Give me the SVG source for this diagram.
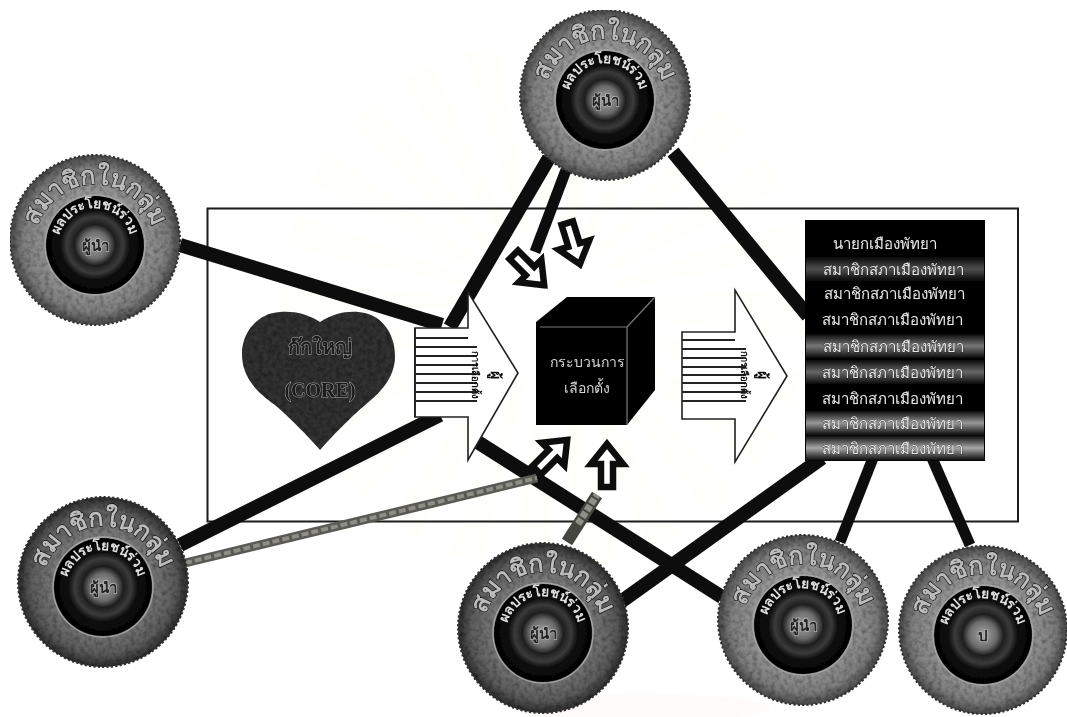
<svg xmlns="http://www.w3.org/2000/svg" width="1067" height="717" viewBox="0 0 1067 717">
<style>
text{font-family:"Noto Sans","Noto Sans CJK SC","DejaVu Sans",sans-serif;text-anchor:middle}
.frame{fill:none;stroke:#1a1a1a;stroke-width:2}
.ln{stroke:#0c0c0c;stroke-linecap:butt;fill:none}
.w13{stroke-width:14}.w11{stroke-width:11}
.rope{stroke:#5a5a54;fill:none;stroke-width:9}
.ropeT{stroke:#8f8e86;fill:none;stroke-width:4;stroke-dasharray:7 3}
.big{fill:#fff;stroke:#222;stroke-width:1.6}
.st{stroke:#222;stroke-width:1.8}
.hollow{fill:#fff;stroke:#0c0c0c;stroke-width:6.500;stroke-linejoin:miter}
.rim{fill:none;stroke:#2f2f2f;stroke-width:2;stroke-dasharray:2.2 2.2}
.halo{fill:none;stroke:#a5a5a5;stroke-width:1.3}
.t1{font-size:25px;font-weight:700;fill:#bcbcbc;stroke:#111;stroke-width:1.2;paint-order:stroke}
.t2{font-size:13.500px;font-weight:700;fill:#e2e2e2}
.t3{font-size:15px;font-weight:700;fill:#222;stroke:#bbb;stroke-width:1.2;paint-order:stroke}
.li{font-size:15px;fill:#e8e8e8;stroke:#111;stroke-width:.5;paint-order:stroke}
.vt{font-size:9.500px;font-weight:700;fill:#111}
.vs{font-size:14px;font-weight:700;fill:#111}
.cu{font-size:14px;fill:#d4d4d4}
.he{font-size:20px;font-weight:700;fill:#1d1d1d;stroke:#a8a8a8;stroke-width:.9;paint-order:stroke}
</style>
<defs>
<filter id="soft" x="0" y="0" width="100%" height="100%"><feGaussianBlur stdDeviation="0.7"/></filter>
<filter id="grain" x="-5%" y="-5%" width="110%" height="110%">
<feTurbulence type="fractalNoise" baseFrequency="0.22" numOctaves="2" seed="4" result="n"/>
<feColorMatrix in="n" type="matrix" values="0 0 0 0 0 0 0 0 0 0 0 0 0 0 0 0 0 0 1.1 -0.42" result="g"/>
<feComposite in="g" in2="SourceGraphic" operator="in" result="gg"/>
<feMerge><feMergeNode in="SourceGraphic"/><feMergeNode in="gg"/></feMerge>
</filter>
<radialGradient id="ringA"><stop offset="0.55" stop-color="#989898"/><stop offset="0.85" stop-color="#7e7e7e"/><stop offset="1" stop-color="#484848"/></radialGradient>
<radialGradient id="ringB"><stop offset="0.55" stop-color="#7c7c7c"/><stop offset="0.85" stop-color="#5c5c5c"/><stop offset="1" stop-color="#2c2c2c"/></radialGradient>
<radialGradient id="core"><stop offset="0" stop-color="#a8a8a8"/><stop offset="0.28" stop-color="#6a6a6a"/><stop offset="0.42" stop-color="#1e1e1e"/><stop offset="0.58" stop-color="#3a3a3a"/><stop offset="0.72" stop-color="#0a0a0a"/><stop offset="1" stop-color="#040404"/></radialGradient>
<linearGradient id="band" x1="0" y1="0" x2="0" y2="1"><stop offset="0" stop-color="#000"/><stop offset="0.5" stop-color="#a8a8a8"/><stop offset="1" stop-color="#000"/></linearGradient>
<path id="arcO" d="M-59 15A60 60 0 1 1 59 15"/>
<path id="arcI" d="M-37 5A37 37 0 0 1 37 5"/>
<path id="hol" d="M0 4L16 24H6V47H-6V24H-16Z"/>
</defs>
<rect width="1067" height="717" fill="#fff"/>
<g filter="url(#soft)">
<g id="watermark" fill="none">
<circle cx="545" cy="305" r="170" stroke="#fefefa" stroke-width="190" stroke-dasharray="22 22"/>
<ellipse cx="640" cy="708" rx="130" ry="14" fill="#fefbfa"/>
</g>
<rect id="frame" class="frame" x="207.500" y="208.500" width="810.500" height="313"/>
<g id="connectors">
<line class="ln w13" x1="180" y1="245" x2="442" y2="325"/>
<line class="ln w13" x1="180" y1="545" x2="440" y2="415"/>
<line class="ln w13" x1="549" y1="158" x2="450" y2="327"/>
<line class="ln w11" x1="566" y1="170" x2="535" y2="252"/>
<line class="ln w13" x1="673" y1="152" x2="808" y2="316"/>
<line class="ln w13" x1="476" y1="441" x2="722" y2="597"/>
<line class="ln w13" x1="622" y1="601" x2="822" y2="458"/>
<line class="ln w11" x1="840" y1="542" x2="873" y2="458"/>
<line class="ln w11" x1="970" y1="545" x2="932" y2="458"/>
<line class="rope" x1="185" y1="563" x2="537" y2="478"/>
<line class="ropeT" x1="185" y1="563" x2="537" y2="478"/>
<line x1="567" y1="542" x2="597" y2="495" stroke="#45453f" stroke-width="12"/>
<line x1="578" y1="524" x2="597" y2="495" stroke="#8f8e87" stroke-width="7" stroke-dasharray="6 2"/>
</g>
<g id="arrow-left">
<path class="big" d="M415 328H468V292L518 373L468 460V417H415Z"/>
<path class="st" d="M415 338H468M415 347H477M415 356H477M415 365H477M415 374H477M415 383H477M415 392H477M415 401H477M415 328V417"/>
<text class="vt" transform="translate(472 375) rotate(90)">การเลือกตั้ง</text>
<text class="vs" transform="translate(491 375) rotate(90)">ผู้</text>
</g>
<g id="hollow-arrows">
<use href="#hol" class="hollow" transform="translate(547 288) rotate(135)"/>
<use href="#hol" class="hollow" transform="translate(581 268) rotate(163)"/>
<use href="#hol" class="hollow" transform="translate(570 437) rotate(45)"/>
<use href="#hol" class="hollow" transform="translate(607 440)"/>
</g>
<g id="core-heart">
<path d="M320 322C332 314 346 311 358 312C380 313 395 332 395 356C395 378 380 393 365 405C350 418 332 436 320 450C308 436 290 418 275 405C258 393 242 378 242 354C242 332 258 313 280 312C294 311 308 314 320 322Z" fill="#323232" filter="url(#grain)"/>
<text class="he" x="320" y="354">ก๊กใหญ่</text>
<text class="he" x="320" y="397" style="font-family:'Liberation Serif',serif">(CORE)</text>
</g>
<g id="ballot-box">
<path d="M536 322L567 297H655V390L627 425H536Z" fill="#050505"/>
<path d="M540 327H627V425M627 327L655 297" fill="none" stroke="#777" stroke-width="1.200"/>
<text class="cu" x="587" y="367">กระบวนการ</text>
<text class="cu" x="587" y="393">เลือกตั้ง</text>
</g>
<g id="arrow-right">
<path class="big" d="M682 332H735V290L787 376L735 462V419H682Z"/>
<path class="st" d="M682 340H735M682 349H746M682 358H746M682 367H746M682 375H746M682 383H746M682 392H746M682 401H746"/>
<text class="vt" transform="translate(741 375) rotate(90)">การเลือกตั้ง</text>
<text class="vs" transform="translate(758 375) rotate(90)">ผู้</text>
</g>
<g id="council-list">
<rect x="805" y="220" width="180" height="241" fill="#050505"/>
<rect x="806" y="256" width="178" height="26" fill="url(#band)" opacity=".45"/>
<rect x="806" y="333" width="178" height="26" fill="url(#band)" opacity=".7"/>
<rect x="806" y="359" width="178" height="26" fill="url(#band)" opacity=".6"/>
<rect x="806" y="410" width="178" height="26" fill="url(#band)" opacity=".9"/>
<rect x="806" y="435" width="178" height="26" fill="url(#band)" opacity="1.000"/>
<text class="li" x="885" y="249">นายกเมืองพัทยา</text>
<text class="li" x="893" y="275">สมาชิกสภาเมืองพัทยา</text>
<text class="li" x="894" y="299">สมาชิกสภาเมืองพัทยา</text>
<text class="li" x="892" y="325">สมาชิกสภาเมืองพัทยา</text>
<text class="li" x="893" y="352">สมาชิกสภาเมืองพัทยา</text>
<text class="li" x="892" y="378">สมาชิกสภาเมืองพัทยา</text>
<text class="li" x="892" y="404">สมาชิกสภาเมืองพัทยา</text>
<text class="li" x="892" y="429">สมาชิกสภาเมืองพัทยา</text>
<text class="li" x="892" y="454">สมาชิกสภาเมืองพัทยา</text>
</g>
<g id="member-top" transform="translate(605 95)">
<circle r="85" fill="url(#ringA)" filter="url(#grain)"/><circle r="85" class="rim"/>
<circle cy="5" r="49" fill="url(#core)"/><circle cy="5" r="50" class="halo"/>
<text class="t1"><textPath href="#arcO" startOffset="50%">สมาชิกในกลุ่ม</textPath></text>
<text class="t2"><textPath href="#arcI" startOffset="50%">ผลประโยชน์ร่วม</textPath></text>
<text class="t3" y="11">ผู้นำ</text>
</g>
<g id="member-left-upper" transform="translate(95 240)">
<circle r="85" fill="url(#ringA)" filter="url(#grain)"/><circle r="85" class="rim"/>
<circle cy="5" r="49" fill="url(#core)"/><circle cy="5" r="50" class="halo"/>
<text class="t1"><textPath href="#arcO" startOffset="50%">สมาชิกในกลุ่ม</textPath></text>
<text class="t2"><textPath href="#arcI" startOffset="50%">ผลประโยชน์ร่วม</textPath></text>
<text class="t3" y="11">ผู้นำ</text>
</g>
<g id="member-left-lower" transform="translate(103 582)">
<circle r="85" fill="url(#ringB)" filter="url(#grain)"/><circle r="85" class="rim"/>
<circle cy="5" r="49" fill="url(#core)"/><circle cy="5" r="50" class="halo"/>
<text class="t1"><textPath href="#arcO" startOffset="50%">สมาชิกในกลุ่ม</textPath></text>
<text class="t2"><textPath href="#arcI" startOffset="50%">ผลประโยชน์ร่วม</textPath></text>
<text class="t3" y="11">ผู้นำ</text>
</g>
<g id="member-bottom-1" transform="translate(543 628)">
<circle r="85" fill="url(#ringB)" filter="url(#grain)"/><circle r="85" class="rim"/>
<circle cy="5" r="49" fill="url(#core)"/><circle cy="5" r="50" class="halo"/>
<text class="t1"><textPath href="#arcO" startOffset="50%">สมาชิกในกลุ่ม</textPath></text>
<text class="t2"><textPath href="#arcI" startOffset="50%">ผลประโยชน์ร่วม</textPath></text>
<text class="t3" y="11">ผู้นำ</text>
</g>
<g id="member-bottom-2" transform="translate(803 620)">
<circle r="85" fill="url(#ringA)" filter="url(#grain)"/><circle r="85" class="rim"/>
<circle cy="5" r="49" fill="url(#core)"/><circle cy="5" r="50" class="halo"/>
<text class="t1"><textPath href="#arcO" startOffset="50%">สมาชิกในกลุ่ม</textPath></text>
<text class="t2"><textPath href="#arcI" startOffset="50%">ผลประโยชน์ร่วม</textPath></text>
<text class="t3" y="11">ผู้นำ</text>
</g>
<g id="member-bottom-3" transform="translate(983 630)">
<circle r="84" fill="url(#ringA)" filter="url(#grain)"/><circle r="84" class="rim"/>
<circle cy="5" r="49" fill="url(#core)"/><circle cy="5" r="50" class="halo"/>
<text class="t1"><textPath href="#arcO" startOffset="50%">สมาชิกในกลุ่ม</textPath></text>
<text class="t2"><textPath href="#arcI" startOffset="50%">ผลประโยชน์ร่วม</textPath></text>
<text class="t3" y="11">ป</text>
</g>
</g>
</svg>
